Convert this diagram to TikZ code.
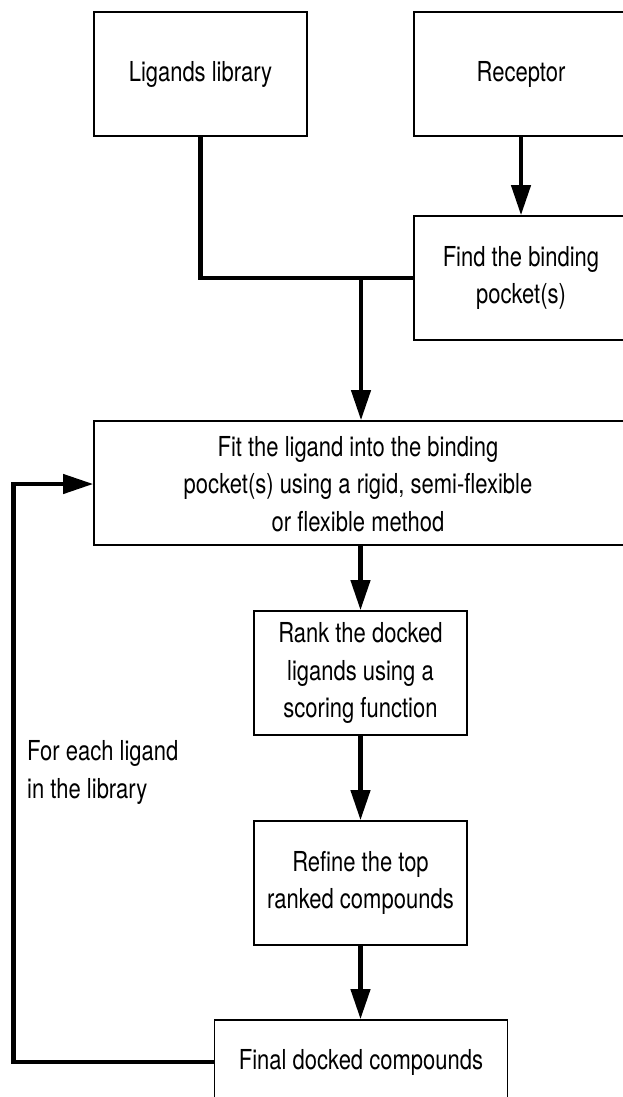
\documentclass[tikz,border=0pt]{standalone}
\usepackage{fontspec}
\setmainfont[FakeStretch=0.8]{TeX Gyre Heros}
\usetikzlibrary{arrows.meta}
\begin{document}
\begin{tikzpicture}[x=1pt,y=-1pt,
  box/.style={draw, line width=1.6pt, minimum height=124pt, align=center,
              inner sep=0pt, font=\fontsize{27.5}{37.5}\selectfont},
  txt/.style={align=center, inner sep=0pt, font=\fontsize{27.5}{37.5}\selectfont},
  conn/.style={line width=4.2pt},
  flow/.style={conn, -{Triangle[length=30pt,width=19pt]}}]
\useasboundingbox (0,0) rectangle (623,1097);
\clip (0,0) rectangle (623,1097);

% input boxes
\node[box, minimum width=213pt] (lig) at (200.5,74) {Ligands library};
\node[box, minimum width=214pt] (rec) at (521,74) {Receptor};
\node[box, minimum width=214pt] (find) at (521,278) {Find the binding\\pocket(s)};

% docking step (box runs past the right edge)
\node[box, minimum width=546pt] (fit) at (367,483) {};
\node[txt] (fittext) at (358,484) {Fit the ligand into the binding\\pocket(s) using a rigid, semi-flexible\\or flexible method};

% ranking and refinement
\node[box, minimum width=213pt] (rank) at (360.5,673) {Rank the docked\\ligands using a\\scoring function};
\node[box, minimum width=213pt] (refine) at (360.5,883) {Refine the top\\ranked compounds};
\node[box, minimum width=293pt, minimum height=84pt] (final) at (361,1062) {Final docked compounds};

% loop label (anchored on the baseline of its last line)
\node[txt, align=left, anchor=base west] (looptext) at (27,798) {For each ligand\\in the library};

% connectors
\coordinate (join) at (361,278);
\coordinate (loop) at (13.5,484);
\draw[flow] (rec) -- (find);
\draw[conn] (lig.south) |- (find.west);
\draw[flow] (join) -- (join |- fit.north);
\draw[flow] (fit.south -| rank.north) -- (rank.north);
\draw[flow] (rank) -- (refine);
\draw[flow] (refine) -- (refine.south |- final.north);
\draw[flow] (final.west) -| (loop) -- (loop -| fit.west);
\end{tikzpicture}
\end{document}
